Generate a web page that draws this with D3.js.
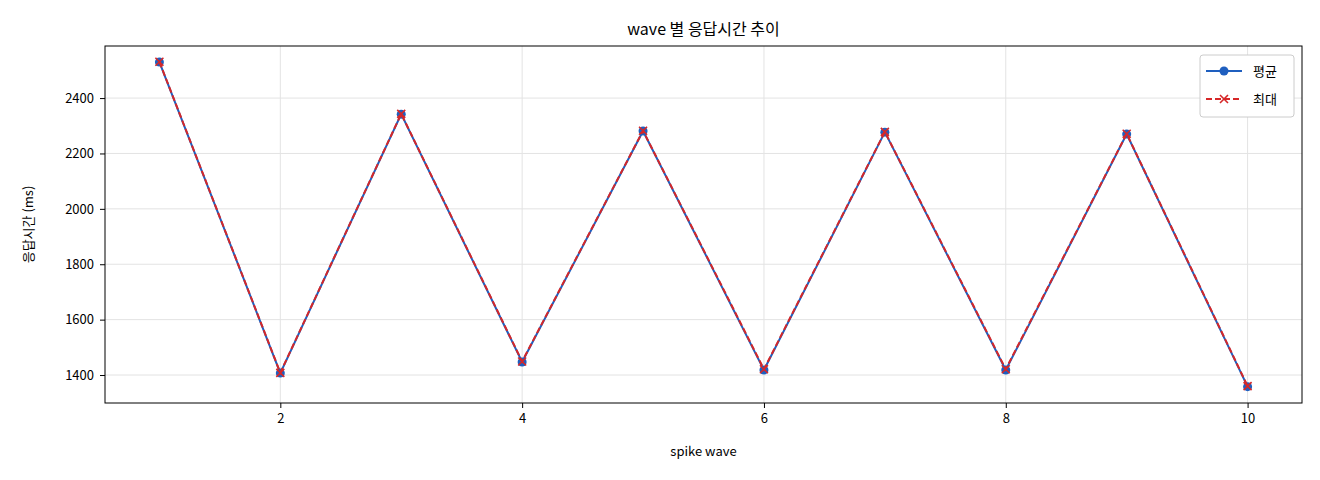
<!DOCTYPE html>
<html><head><meta charset="utf-8">
<script src="https://cdn.jsdelivr.net/npm/d3@7"></script>
<style>
body{margin:0;background:#fff;font-family:"Noto Sans CJK KR","Noto Sans",sans-serif;}
text{font-family:"Noto Sans CJK KR","Noto Sans",sans-serif;}
</style></head>
<body><svg id="chart" width="1320" height="480"></svg>
<script>
// data
var waves = [1, 2, 3, 4, 5, 6, 7, 8, 9, 10];
var avgMs = [2530, 1407, 2342, 1447, 2281, 1418, 2277, 1418, 2270, 1358];
var maxMs = [2531, 1408, 2343, 1449, 2282, 1421, 2278, 1421, 2271, 1360];
var xTicks = [2, 4, 6, 8, 10];
var yTicks = [1400, 1600, 1800, 2000, 2200, 2400];

var plotL = 105, plotR = 1302, plotT = 46, plotB = 403;
var svg = d3.select('#chart');

var xScale = d3.scaleLinear().domain([0.55, 10.45]).range([plotL, plotR]);
var yScale = d3.scaleLinear().domain([1299, 2588]).range([plotB, plotT]);

// grid
svg.append('g').selectAll('line').data(xTicks).enter().append('line')
    .attr('x1', d => xScale(d)).attr('x2', d => xScale(d))
    .attr('y1', plotT).attr('y2', plotB)
    .attr('stroke', '#e3e3e3').attr('stroke-width', 1);
svg.append('g').selectAll('line').data(yTicks).enter().append('line')
    .attr('x1', plotL).attr('x2', plotR)
    .attr('y1', d => yScale(d)).attr('y2', d => yScale(d))
    .attr('stroke', '#e3e3e3').attr('stroke-width', 1);

// axes
var xAxis = d3.axisBottom(xScale).tickValues(xTicks).tickSize(5).tickPadding(6).tickFormat(d3.format('d'));
var yAxis = d3.axisLeft(yScale).tickValues(yTicks).tickSize(5).tickPadding(6).tickFormat(d3.format('d'));
svg.append('g').attr('transform', `translate(0,${plotB})`).call(xAxis)
    .call(g => g.select('.domain').remove())
    .selectAll('text').attr('font-size', 13).attr('fill', '#000');
svg.append('g').attr('transform', `translate(${plotL},0)`).call(yAxis)
    .call(g => g.select('.domain').remove())
    .selectAll('text').attr('font-size', 13).attr('fill', '#000');
svg.append('rect').attr('x', plotL).attr('y', plotT)
    .attr('width', plotR - plotL).attr('height', plotB - plotT)
    .attr('fill', 'none').attr('stroke', '#000').attr('stroke-width', 1);

// labels
svg.append('text').attr('x', (plotL + plotR) / 2).attr('y', 35)
    .attr('text-anchor', 'middle').attr('font-size', 16).text('wave 별 응답시간 추이');
svg.append('text').attr('x', (plotL + plotR) / 2).attr('y', 456)
    .attr('text-anchor', 'middle').attr('font-size', 13).text('spike wave');
svg.append('text').attr('transform', `translate(33,${(plotT + plotB) / 2}) rotate(-90)`)
    .attr('text-anchor', 'middle').attr('font-size', 13).text('응답시간 (ms)');

var blue = '#1f5fbf', red = '#d62728';
var line = d3.line().x((d, i) => xScale(waves[i])).y(d => yScale(d));

svg.append('path').attr('d', line(avgMs)).attr('fill', 'none')
    .attr('stroke', blue).attr('stroke-width', 2);
svg.append('g').selectAll('circle').data(avgMs).enter().append('circle')
    .attr('cx', (d, i) => xScale(waves[i])).attr('cy', d => yScale(d))
    .attr('r', 4.5).attr('fill', blue);

svg.append('path').attr('d', line(maxMs)).attr('fill', 'none')
    .attr('stroke', red).attr('stroke-width', 2).attr('stroke-dasharray', '6,3');
function cross(g, x, y, s) {
    g.append('path').attr('d', `M${x - s},${y - s}L${x + s},${y + s}M${x - s},${y + s}L${x + s},${y - s}`)
        .attr('stroke', red).attr('stroke-width', 1.6);
}
var cg = svg.append('g');
maxMs.forEach((d, i) => cross(cg, xScale(waves[i]), yScale(d), 4));

// legend
var lg = svg.append('g');
lg.append('rect').attr('x', 1200).attr('y', 55).attr('width', 94).attr('height', 62)
    .attr('rx', 3).attr('fill', '#fff').attr('stroke', '#ccc');
lg.append('line').attr('x1', 1206).attr('x2', 1242).attr('y1', 71).attr('y2', 71)
    .attr('stroke', blue).attr('stroke-width', 2);
lg.append('circle').attr('cx', 1224).attr('cy', 71).attr('r', 4.5).attr('fill', blue);
lg.append('text').attr('x', 1253).attr('y', 76).attr('font-size', 13).text('평균');
lg.append('line').attr('x1', 1206).attr('x2', 1242).attr('y1', 99).attr('y2', 99)
    .attr('stroke', red).attr('stroke-width', 2).attr('stroke-dasharray', '6,3');
cross(lg, 1224, 99, 4);
lg.append('text').attr('x', 1253).attr('y', 104).attr('font-size', 13).text('최대');
</script></body></html>
